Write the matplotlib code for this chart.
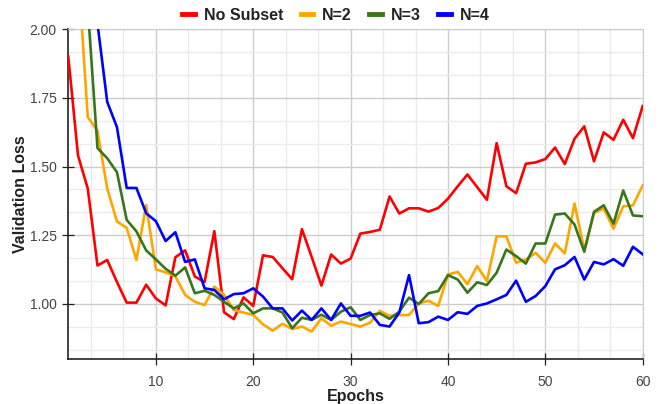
import matplotlib
matplotlib.use("Agg")
import matplotlib.pyplot as plt
from matplotlib.ticker import MultipleLocator
import numpy as np

plt.rcParams['font.family'] = ['Liberation Sans', 'DejaVu Sans']

epochs = list(range(1, 61))

no_subset = [1.90, 1.54, 1.42, 1.14, 1.16, 1.08, 1.005, 1.005, 1.07, 1.02,
             0.995, 1.17, 1.195, 1.10, 1.08, 1.265, 0.97, 0.945, 1.024, 0.993,
             1.177, 1.171, 1.13, 1.09, 1.272, 1.171, 1.067, 1.18, 1.147, 1.165,
             1.256, 1.262, 1.27, 1.391, 1.329, 1.348, 1.348, 1.336, 1.349, 1.383,
             1.428, 1.471, 1.425, 1.379, 1.585, 1.428, 1.403, 1.51, 1.515, 1.527,
             1.569, 1.509, 1.601, 1.646, 1.519, 1.624, 1.597, 1.67, 1.603, 1.72]

n2 = [2.6, 2.22, 1.68, 1.63, 1.42, 1.30, 1.277, 1.16, 1.36, 1.126,
      1.115, 1.101, 1.033, 1.008, 0.996, 1.063, 1.033, 0.978, 0.969, 0.96,
      0.926, 0.903, 0.928, 0.909, 0.918, 0.90, 0.948, 0.921, 0.936, 0.927,
      0.918, 0.932, 0.975, 0.957, 0.96, 0.96, 1.002, 1.012, 0.993, 1.107,
      1.117, 1.072, 1.138, 1.083, 1.246, 1.246, 1.15, 1.162, 1.186, 1.15,
      1.22, 1.184, 1.365, 1.196, 1.331, 1.347, 1.274, 1.355, 1.359, 1.431]

n3 = [3.0, 2.6, 2.08, 1.567, 1.53, 1.479, 1.306, 1.264, 1.195, 1.162,
      1.128, 1.103, 1.133, 1.039, 1.048, 1.033, 1.008, 0.984, 1.002, 0.966,
      0.984, 0.984, 0.969, 0.912, 0.95, 0.942, 0.961, 0.942, 0.972, 0.988,
      0.942, 0.96, 0.966, 0.946, 0.972, 1.023, 1.0, 1.039, 1.047, 1.105,
      1.089, 1.041, 1.079, 1.069, 1.114, 1.198, 1.174, 1.147, 1.22, 1.22,
      1.325, 1.329, 1.289, 1.19, 1.335, 1.359, 1.292, 1.413, 1.322, 1.319]

n4 = [3.3, 2.9, 2.5, 2.02, 1.735, 1.643, 1.422, 1.422, 1.33, 1.301,
      1.229, 1.261, 1.153, 1.162, 1.057, 1.051, 1.017, 1.036, 1.039, 1.057,
      1.027, 0.984, 0.984, 0.94, 0.976, 0.942, 0.984, 0.942, 1.002, 0.957,
      0.957, 0.969, 0.924, 0.918, 0.969, 1.105, 0.93, 0.934, 0.954, 0.942,
      0.97, 0.964, 0.993, 1.002, 1.017, 1.033, 1.085, 1.008, 1.029, 1.065,
      1.126, 1.141, 1.171, 1.089, 1.153, 1.144, 1.163, 1.139, 1.208, 1.181]

series_names = ["No Subset", "N=2", "N=3", "N=4"]
series_colors = ["#ff0000", "#ffa500", "#38761d", "#0000ff"]

fig = plt.figure(figsize=(6.61, 4.04), dpi=100)
ax = fig.add_axes([0.1033, 0.1114, 0.8690, 0.8168])

for vals, name, col in zip([no_subset, n2, n3, n4], series_names, series_colors):
    ax.plot(epochs, vals, color=col, lw=1.9, label=name, solid_joinstyle='round', zorder=3)

ax.set_xlim(1, 60)
ax.set_ylim(0.8, 2.0)
ax.xaxis.set_major_locator(MultipleLocator(10))
ax.xaxis.set_minor_locator(MultipleLocator(10 / 3))
ax.yaxis.set_major_locator(MultipleLocator(0.25))
ax.yaxis.set_minor_locator(MultipleLocator(0.25 / 3))
ax.yaxis.set_major_formatter(matplotlib.ticker.FormatStrFormatter('%.2f'))

ax.grid(which='major', color='#cccccc', lw=1.0, zorder=0)
ax.grid(which='minor', color='#ebebeb', lw=1.0, zorder=0)
ax.set_axisbelow(True)

ax.tick_params(which='major', direction='inout', length=8.6, width=0.9, color='#222222',
               labelsize=10, labelcolor='#444444')
ax.tick_params(axis='y', which='major', pad=4)
ax.tick_params(axis='x', which='major', pad=7)
ax.tick_params(which='minor', length=0)

for s in ['top', 'right']:
    ax.spines[s].set_color('#cccccc')
for s in ['left', 'bottom']:
    ax.spines[s].set_color('#222222')
    ax.spines[s].set_linewidth(1.2)

ax.set_xlabel("Epochs", fontsize=11.5, fontweight='bold', color='#222222', labelpad=0)
ax.set_ylabel("Validation Loss", fontsize=11.5, fontweight='bold', color='#222222', labelpad=1)

handles, labels = ax.get_legend_handles_labels()
leg = fig.legend(handles, labels, loc='center', bbox_to_anchor=(336 / 661, 1 - 15 / 404),
                 ncol=4, frameon=False, prop={'weight': 'bold', 'size': 11.5},
                 handlelength=0.8, handletextpad=0.55, columnspacing=1.1)
for line in leg.get_lines():
    line.set_linewidth(3.5)
for t in leg.get_texts():
    t.set_color('#222222')

fig.savefig("out.png", dpi=100)
